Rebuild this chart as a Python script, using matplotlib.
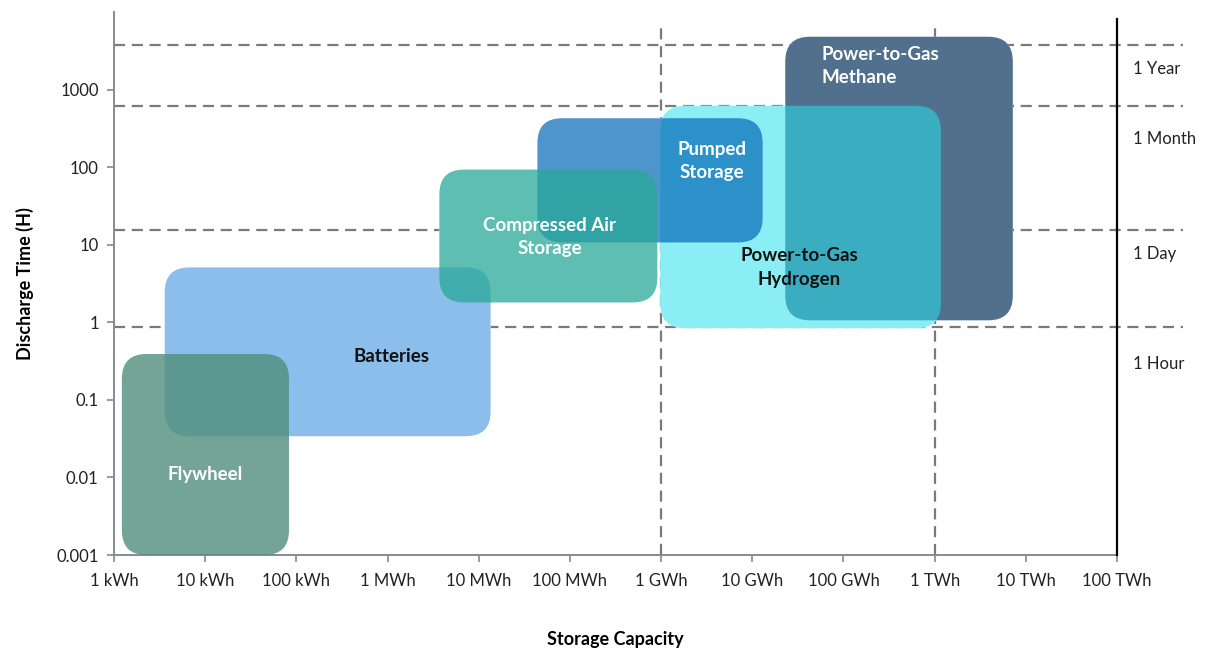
import numpy as np
import matplotlib
matplotlib.use("Agg")
import matplotlib.pyplot as plt
from matplotlib.patches import FancyBboxPatch

plt.rcParams['font.family'] = ['Lato', 'DejaVu Sans']

# storage technologies (in drawing order): capacity range (kWh) and discharge time range (hours)
techs = ["Batteries", "Flywheel", "Power-to-Gas\nMethane", "Power-to-Gas\nHydrogen",
         "Pumped\nStorage", "Compressed Air\nStorage"]
cap_min = [3.6, 1.22, 2.3e7, 9.8e5, 4.4e4, 3700]
cap_max = [13500, 83, 7.2e9, 1.17e9, 1.3e7, 9.1e5]
t_min = [0.034, 0.001, 1.06, 0.84, 10.7, 1.8]
t_max = [5.1, 0.39, 4800, 617, 427, 93]
box_colors = ["#8cbeeb", "#508e7c", "#50708e", "#2ae0eb", "#0569b8", "#29a898"]
box_alpha = [1.0, 0.8, 1.0, 0.55, 0.7, 0.75]
text_colors = ["#111111", "white", "white", "#111111", "white", "white"]
# label anchor (kWh, hours)
label_cap = [1100, 10, 5.8e7, 3.3e7, 3.6e6, 6.0e4]
label_t = [0.36, 0.011, 2000, 5.1, 120, 12.6]

x_ticks = [1, 10, 100, 1e3, 1e4, 1e5, 1e6, 1e7, 1e8, 1e9, 1e10, 1e11]
x_labels = ["1 kWh", "10 kWh", "100 kWh", "1 MWh", "10 MWh", "100 MWh", "1 GWh",
            "10 GWh", "100 GWh", "1 TWh", "10 TWh", "100 TWh"]
y_ticks = [0.001, 0.01, 0.1, 1, 10, 100, 1000]
y_labels = ["0.001", "0.01", "0.1", "1", "10", "100", "1000"]

# reference durations
ref_names = ["1 Year", "1 Month", "1 Day", "1 Hour"]
ref_lines = [3750, 612, 15.4, 0.87]
ref_label_t = [1850, 230, 7.5, 0.29]
vlines_cap = [1e6, 1e9]

fig = plt.figure(figsize=(12.07, 6.5), dpi=100)
ax = fig.add_axes([114/1207, 95/650, 1003/1207, 543/650])
ax.set_xlim(0, 11)
ax.set_ylim(-3, 4)

lx = np.log10
dash = (0, (5, 3))
for v in ref_lines:
    ax.plot([0, 11.72], [lx(v), lx(v)], color="#7a7a7a", lw=1.6, linestyle=dash,
            zorder=1, clip_on=False)
for c in vlines_cap:
    ax.plot([lx(c), lx(c)], [-3, 3.85], color="#7a7a7a", lw=1.6, linestyle=dash, zorder=1)

style = "round,pad=0,rounding_size=0.27"
asp = 91.2 / 77.6
for i in range(len(techs)):
    x0, x1 = lx(cap_min[i]), lx(cap_max[i])
    y0, y1 = lx(t_min[i]), lx(t_max[i])
    # white backing so the grid lines don't show through
    ax.add_patch(FancyBboxPatch((x0, y0), x1 - x0, y1 - y0, boxstyle=style,
                                mutation_aspect=asp, facecolor="white",
                                edgecolor="none", zorder=1.5))
    ax.add_patch(FancyBboxPatch((x0, y0), x1 - x0, y1 - y0, boxstyle=style,
                                mutation_aspect=asp, facecolor=box_colors[i],
                                edgecolor="none", alpha=box_alpha[i], zorder=2 + i))
    ha = "left" if "Methane" in techs[i] else "center"
    ax.text(lx(label_cap[i]), lx(label_t[i]), techs[i], ha=ha, va="center",
            color=text_colors[i], fontsize=13.5, fontweight="bold", zorder=10,
            linespacing=1.45)

# right boundary line
ax.plot([11, 11], [-3, 3.91], color="black", lw=1.6, clip_on=False, zorder=3)

for name, t in zip(ref_names, ref_label_t):
    ax.text(11.17, lx(t), name, ha="left", va="center", fontsize=12, color="#222222")

ax.set_xticks(lx(np.array(x_ticks)))
ax.set_xticklabels(x_labels)
ax.set_yticks(lx(np.array(y_ticks)))
ax.set_yticklabels(y_labels)
ax.tick_params(axis="both", colors="#888888", labelcolor="#222222", labelsize=12,
               length=5, width=1.2)
ax.tick_params(axis="x", pad=8)
ax.tick_params(axis="y", pad=6)

for s in ["top", "right"]:
    ax.spines[s].set_visible(False)
for s in ["left", "bottom"]:
    ax.spines[s].set_color("#8a8a8a")
    ax.spines[s].set_linewidth(1.4)

ax.set_xlabel("Storage Capacity", fontsize=13, fontweight="bold", labelpad=30)
ax.set_ylabel("Discharge Time (H)", fontsize=13, fontweight="bold", labelpad=16)

fig.savefig("out.png", dpi=100)
